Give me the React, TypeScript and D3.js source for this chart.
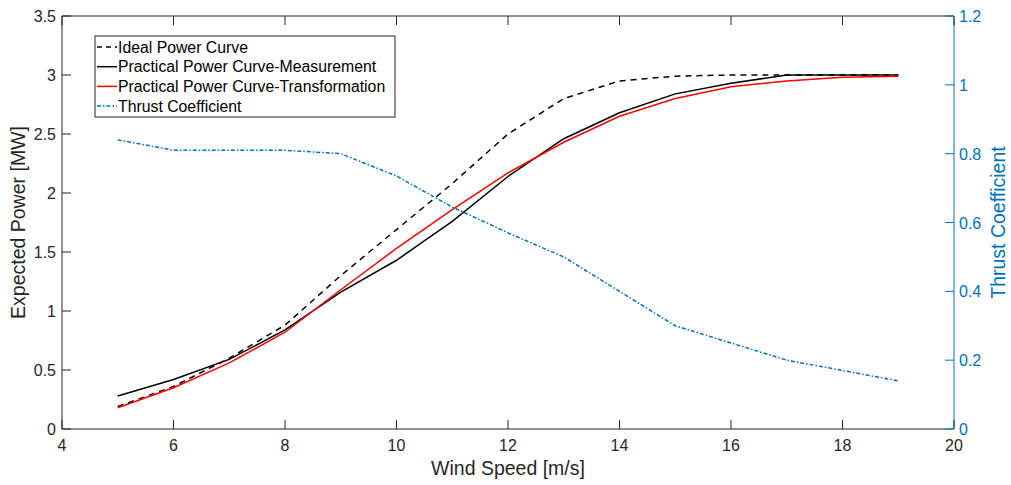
import React from "react";
import * as d3 from "d3";

const windSpeed = [5, 6, 7, 8, 9, 10, 11, 12, 13, 14, 15, 16, 17, 18, 19];
const idealPower = [0.19, 0.36, 0.6, 0.88, 1.3, 1.69, 2.08, 2.5, 2.8, 2.95, 2.99, 3.0, 3.0, 3.0, 3.0];
const measuredPower = [0.28, 0.42, 0.59, 0.84, 1.16, 1.43, 1.76, 2.14, 2.46, 2.68, 2.84, 2.93, 3.0, 3.0, 3.0];
const transformedPower = [0.18, 0.35, 0.56, 0.82, 1.18, 1.53, 1.86, 2.17, 2.43, 2.65, 2.8, 2.9, 2.95, 2.98, 2.99];
const thrustCoeff = [0.84, 0.81, 0.81, 0.81, 0.8, 0.735, 0.645, 0.57, 0.5, 0.4, 0.3, 0.25, 0.2, 0.17, 0.14];

const xTicks = [4, 6, 8, 10, 12, 14, 16, 18, 20];
const leftTicks = [0, 0.5, 1, 1.5, 2, 2.5, 3, 3.5];
const rightTicks = [0, 0.2, 0.4, 0.6, 0.8, 1, 1.2];

const BLUE = "#0072BD";
const AXIS = "#262626";
const FONT = "'Liberation Sans', Arial, sans-serif";

export default function App() {
  const W = 1011;
  const H = 485;
  const left = 62, right = 954, top = 16, bottom = 429;
  const tick = 9;

  const x = d3.scaleLinear().domain([4, 20]).range([left, right]);
  const yL = d3.scaleLinear().domain([0, 3.5]).range([bottom, top]);
  const yR = d3.scaleLinear().domain([0, 1.2]).range([bottom, top]);

  const lineL = (vals: number[]) =>
    d3.line<number>().x((_, i) => x(windSpeed[i])).y((d) => yL(d))(vals) || "";
  const lineR = d3.line<number>().x((_, i) => x(windSpeed[i])).y((d) => yR(d))(thrustCoeff) || "";

  const legend = [
    { label: "Ideal Power Curve", color: "#000", dash: "5,4" },
    { label: "Practical Power Curve-Measurement", color: "#000", dash: "" },
    { label: "Practical Power Curve-Transformation", color: "#ff0000", dash: "" },
    { label: "Thrust Coefficient", color: BLUE, dash: "4,2,1.5,2" },
  ];

  return (
    <svg width={W} height={H} style={{ position: "absolute", left: 0, top: 0, background: "#fff" }}>
      <rect x={0} y={0} width={W} height={H} fill="#fff" />
      {/* data lines */}
      <path d={lineR} fill="none" stroke={BLUE} strokeWidth={1.5} strokeDasharray="4,2,1.5,2" />
      <path d={lineL(idealPower)} fill="none" stroke="#000" strokeWidth={1.5} strokeDasharray="6,5" />
      <path d={lineL(measuredPower)} fill="none" stroke="#000" strokeWidth={1.5} />
      <path d={lineL(transformedPower)} fill="none" stroke="#ff0000" strokeWidth={1.5} />

      {/* axes box */}
      <line x1={left} x2={right} y1={top} y2={top} stroke={AXIS} />
      <line x1={left} x2={right} y1={bottom} y2={bottom} stroke={AXIS} />
      <line x1={left} x2={left} y1={top} y2={bottom} stroke={AXIS} />
      <line x1={right} x2={right} y1={top} y2={bottom} stroke={BLUE} />

      {xTicks.map((t) => (
        <g key={"x" + t}>
          <line x1={x(t)} x2={x(t)} y1={bottom} y2={bottom - tick} stroke={AXIS} />
          <line x1={x(t)} x2={x(t)} y1={top} y2={top + tick} stroke={AXIS} />
          <text x={x(t)} y={bottom + 22} textAnchor="middle" fontSize={16} fill={AXIS} fontFamily={FONT}>
            {t}
          </text>
        </g>
      ))}
      {leftTicks.map((t) => (
        <g key={"l" + t}>
          <line x1={left} x2={left + tick} y1={yL(t)} y2={yL(t)} stroke={AXIS} />
          <text x={left - 6} y={yL(t) + 6} textAnchor="end" fontSize={16} fill={AXIS} fontFamily={FONT}>
            {t}
          </text>
        </g>
      ))}
      {rightTicks.map((t) => (
        <g key={"r" + t}>
          <line x1={right} x2={right - tick} y1={yR(t)} y2={yR(t)} stroke={BLUE} />
          <text x={right + 5} y={yR(t) + 6} textAnchor="start" fontSize={16} fill={BLUE} fontFamily={FONT}>
            {t}
          </text>
        </g>
      ))}

      <text x={(left + right) / 2} y={475} textAnchor="middle" fontSize={19.5} fill={AXIS} fontFamily={FONT}>
        Wind Speed [m/s]
      </text>
      <text
        transform={`translate(25,${(top + bottom) / 2}) rotate(-90)`}
        textAnchor="middle"
        fontSize={19.5}
        fill={AXIS}
        fontFamily={FONT}
      >
        Expected Power [MW]
      </text>
      <text
        transform={`translate(1005,${(top + bottom) / 2}) rotate(-90)`}
        textAnchor="middle"
        fontSize={19.5}
        fill={BLUE}
        fontFamily={FONT}
      >
        Thrust Coefficient
      </text>

      {/* legend */}
      <rect x={95} y={36} width={300} height={81} fill="#fff" stroke={AXIS} strokeWidth={1} />
      {legend.map((l, i) => {
        const yy = 47 + i * 19.7;
        return (
          <g key={l.label}>
            <line x1={97} x2={117} y1={yy} y2={yy} stroke={l.color} strokeWidth={1.5} strokeDasharray={l.dash || undefined} />
            <text x={118} y={yy + 5.5} fontSize={15.8} fill="#000" fontFamily={FONT}>
              {l.label}
            </text>
          </g>
        );
      })}
    </svg>
  );
}
